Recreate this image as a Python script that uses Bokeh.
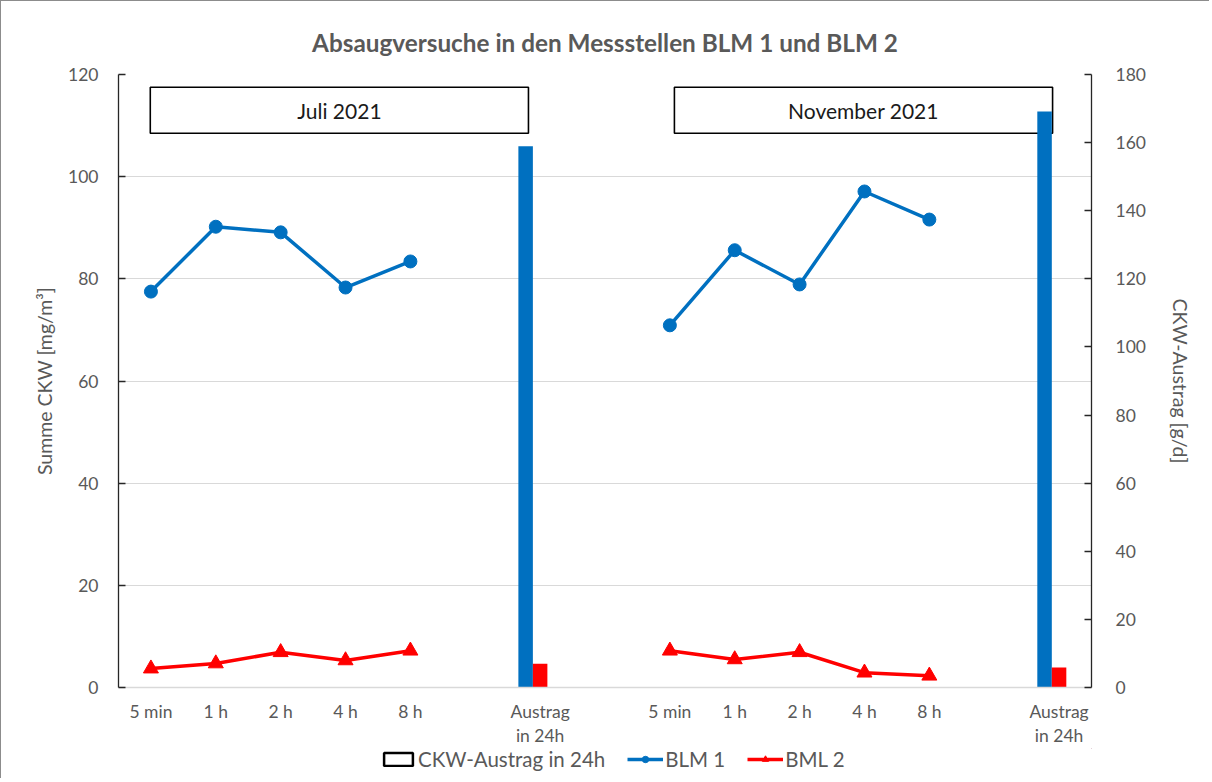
import math
from bokeh.plotting import figure
from bokeh.layouts import column
from bokeh.models import (Range1d, LinearAxis, FixedTicker, Legend, LegendItem,
                          BoxAnnotation, Label, ColumnDataSource)
from bokeh.transform import dodge
from bokeh.embed import file_html
from bokeh.resources import INLINE

nan = float("nan")

# ---- data ----
categories = ["5 min", "1 h", "2 h", "4 h", "8 h", "", "Austrag\nin 24h", "",
              "5 min", "1 h", "2 h", "4 h", "8 h", "", "Austrag\nin 24h"]
blm1 = [77.5, 90.2, 89.1, 78.3, 83.4, nan, nan, nan,
        70.9, 85.6, 78.9, 97.1, 91.6, nan, nan]
bml2 = [3.7, 4.7, 6.9, 5.3, 7.2, nan, nan, nan,
        7.2, 5.5, 6.9, 2.9, 2.3, nan, nan]
austrag_cat = [6, 14]
austrag_blm1 = [158.9, 169.1]   # g/d, right axis
austrag_bml2 = [7.0, 5.9]       # g/d, right axis
austrag_ckw = [nan, nan]        # empty (unfilled) series
period_labels = ["Juli 2021", "November 2021"]
left_ticks = [0, 20, 40, 60, 80, 100, 120]
right_ticks = [0, 20, 40, 60, 80, 100, 120, 140, 160, 180]

FONT = "Lato"
GRAY = "#595959"
BLUE = "#0070C0"
RED = "#FF0000"
TS = "17.5px"

xs = [i + 0.5 for i in range(len(categories))]
line1 = [c.split("\n")[0] for c in categories]
line2 = [c.split("\n")[1] if "\n" in c else "" for c in categories]
line_src = ColumnDataSource(dict(x=xs, blm1=blm1, bml2=bml2))
bar_src = ColumnDataSource(dict(x=[c + 0.5 for c in austrag_cat],
                                blm1=austrag_blm1, bml2=austrag_bml2,
                                ckw=austrag_ckw))

p = figure(frame_width=973, frame_height=613, x_range=Range1d(0, len(categories)),
           y_range=Range1d(0, 120), output_backend="svg", toolbar_location=None,
           min_border_left=117, min_border_right=118, min_border_top=73,
           min_border_bottom=60)
p.extra_y_ranges = {"right": Range1d(0, 180)}
p.outline_line_color = None
p.background_fill_color = "white"
p.border_fill_color = "white"

p.title.text = "Absaugversuche in den Messstellen BLM 1 und BLM 2"
p.title.text_font = FONT
p.title.text_font_style = "bold"
p.title.text_font_size = "24.3px"
p.title.text_color = GRAY
p.title.align = "center"
p.title.standoff = 35

# grid
p.xgrid.visible = False
p.ygrid.ticker = FixedTicker(ticks=left_ticks)
p.ygrid.grid_line_color = "#d9d9d9"
p.ygrid.grid_line_width = 1

# x axis (first label line)
xa = p.xaxis[0]
xa.ticker = FixedTicker(ticks=xs)
xa.major_label_overrides = {x: c for x, c in zip(xs, line1)}
xa.axis_line_color = "#d9d9d9"
xa.axis_line_width = 1.5
xa.major_label_standoff = 13

# second label line
xa2 = LinearAxis(ticker=FixedTicker(ticks=xs),
                 major_label_overrides={x: c for x, c in zip(xs, line2)})
xa2.axis_line_color = None
xa2.major_label_standoff = 0
p.add_layout(xa2, "below")

for ax in (xa, xa2):
    ax.major_tick_line_color = None
    ax.minor_tick_line_color = None
    ax.major_tick_in = 0
    ax.major_tick_out = 0
    ax.major_label_text_font = FONT
    ax.major_label_text_font_size = TS
    ax.major_label_text_color = GRAY

# left axis
ya = p.yaxis[0]
ya.ticker = FixedTicker(ticks=left_ticks)
ya.axis_label = "Summe CKW [mg/m³]"

ra = LinearAxis(y_range_name="right", ticker=FixedTicker(ticks=right_ticks),
                axis_label="CKW-Austrag [g/d]")
p.add_layout(ra, "right")

for ax, st, ls in ((ya, 9, 20), (ra, 20, 24)):
    ax.axis_line_color = "#262626"
    ax.axis_line_width = 1.3
    ax.major_tick_line_color = "#262626"
    ax.major_tick_line_width = 1.3
    ax.major_tick_in = 7
    ax.major_tick_out = 0
    ax.minor_tick_line_color = None
    ax.major_label_text_font = FONT
    ax.major_label_text_font_size = TS
    ax.major_label_text_color = GRAY
    ax.major_label_standoff = ls
    ax.axis_label_text_font = FONT
    ax.axis_label_text_font_size = "19.5px"
    ax.axis_label_text_font_style = "normal"
    ax.axis_label_text_color = GRAY
    ax.axis_label_standoff = st

# period boxes (annotations)
box_pos = [(0.49, 6.32), (8.57, 14.40)]
for (l, r), txt in zip(box_pos, period_labels):
    p.add_layout(BoxAnnotation(left=l, right=r, bottom=108.5, top=117.5,
                               fill_color="white", fill_alpha=1.0,
                               line_color="black", line_alpha=1.0,
                               line_width=1.6, level="underlay"))
    p.add_layout(Label(x=(l + r) / 2, y=113, text=txt, text_align="center",
                       text_baseline="middle", text_font=FONT,
                       text_font_size="21px", text_color="#1a1a1a"))


def add_series(fig):
    bw = 0.2236
    fig.vbar(x=dodge("x", -bw, range=fig.x_range), top="blm1", width=bw,
             source=bar_src, y_range_name="right", fill_color=BLUE,
             line_color=None)
    fig.vbar(x=dodge("x", 0.0, range=fig.x_range), top="bml2", width=bw,
             source=bar_src, y_range_name="right", fill_color=RED,
             line_color=None)
    ckw = fig.vbar(x=dodge("x", bw, range=fig.x_range), top="ckw", width=bw,
                   source=bar_src, y_range_name="right", fill_color="white",
                   line_color="black", line_width=2.5)
    l1 = fig.line("x", "blm1", source=line_src, line_color=BLUE, line_width=3.5)
    s1 = fig.scatter("x", "blm1", source=line_src, marker="circle", size=13,
                     fill_color=BLUE, line_color=BLUE)
    l2 = fig.line("x", "bml2", source=line_src, line_color=RED, line_width=3.5)
    s2 = fig.scatter("x", "bml2", source=line_src, marker="triangle", size=15,
                     fill_color=RED, line_color=RED)
    return ckw, l1, s1, l2, s2


add_series(p)

# legend strip below the chart (same series, only their legend glyphs show)
pl = figure(width=1208, height=30, x_range=Range1d(-1000, -999),
            y_range=Range1d(-1000, -999), output_backend="svg",
            toolbar_location=None, min_border=0)
pl.extra_y_ranges = {"right": Range1d(-1000, -999)}
pl.axis.visible = False
pl.grid.visible = False
pl.outline_line_color = None
ckw, l1, s1, l2, s2 = add_series(pl)

legend = Legend(items=[
    LegendItem(label="CKW-Austrag in 24h", renderers=[ckw], index=0),
    LegendItem(label="BLM 1", renderers=[l1, s1], index=0),
    LegendItem(label="BML 2", renderers=[l2, s2], index=0),
], orientation="horizontal", location=(262, 7))
legend.label_text_font = FONT
legend.label_text_font_size = "20.5px"
legend.label_text_color = GRAY
legend.label_height = 20
legend.glyph_width = 36
legend.glyph_height = 16
legend.label_standoff = 2
legend.spacing = 22
legend.padding = 0
legend.margin = 0
legend.border_line_color = None
legend.background_fill_alpha = 0
pl.add_layout(legend, "center")

layout = column(p, pl, spacing=0)
layout.styles = {"border-left": "1px solid #8c8c8c", "border-top": "1px solid #8c8c8c"}

open("out.html", "w").write(file_html(layout, INLINE))
